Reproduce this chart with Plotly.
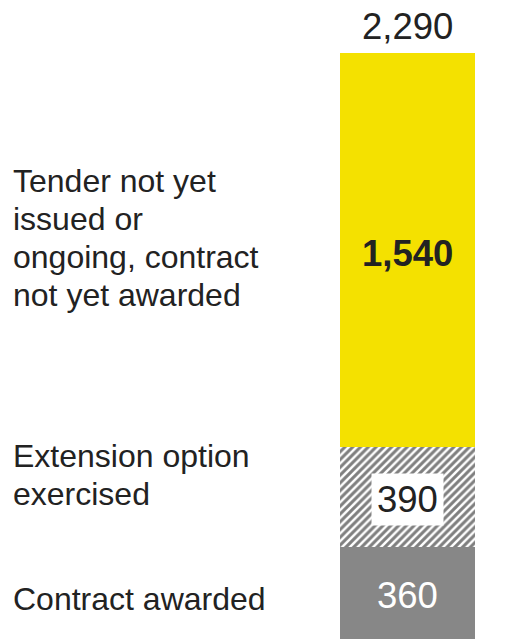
import plotly.graph_objects as go

categories = ["Contract awarded", "Extension option exercised", "Tender not yet issued or ongoing, contract not yet awarded"]
label_lines = [
    ["Contract awarded"],
    ["Extension option", "exercised"],
    ["Tender not yet", "issued or", "ongoing, contract", "not yet awarded"],
]
values = [360, 390, 1540]
total = sum(values)

colors = ["#878787", "#ffffff", "#F4E100"]
FONT = "Liberation Sans, Arial, sans-serif"
TXT = "#222222"

fig = go.Figure()
bases = []
b = 0
for v in values:
    bases.append(b)
    b += v

for i, (cat, v) in enumerate(zip(categories, values)):
    marker = dict(color=colors[i], line=dict(width=0))
    if i == 1:
        marker["pattern"] = dict(shape="/", fgcolor="#000000", bgcolor="#ffffff", size=5.5, solidity=0.55)
    fig.add_trace(go.Bar(x=[0], y=[v], name=cat, marker=marker, width=1, showlegend=False, hoverinfo="skip"))

# value labels
VS = 36.5
val_fonts = [dict(size=VS, color="#ffffff", family=FONT),
             dict(size=VS, color=TXT, family=FONT),
             dict(size=VS, color=TXT, family=FONT)]
for i, v in enumerate(values):
    txt = f"{v:,}"
    if i == 2:
        txt = f"<b>{v:,}</b>"
    ann = dict(x=0, y=bases[i] + v / 2, xref="x", yref="y", text=txt, showarrow=False,
               font=val_fonts[i], xanchor="center", yanchor="middle", yshift=-3)
    if i == 1:
        ann.update(bgcolor="#ffffff", borderpad=5)
    fig.add_annotation(**ann)

# total
fig.add_annotation(x=0, y=total, xref="x", yref="y", text=f"{total:,}", showarrow=False,
                   font=dict(size=VS, color=TXT, family=FONT), xanchor="center", yanchor="bottom", yshift=4)

# category labels (one annotation per line for tighter line spacing)
shifts = [-6, 22, 12]
SP = 37.7
for i, v in enumerate(values):
    lines = label_lines[i]
    n = len(lines)
    for k, line in enumerate(lines):
        fig.add_annotation(x=11 / 519, xref="paper", y=bases[i] + v / 2, yref="y", text=line,
                           showarrow=False, align="left", xanchor="left", yanchor="middle",
                           font=dict(size=32, color=TXT, family=FONT),
                           yshift=shifts[i] + ((n - 1) / 2 - k) * SP)

fig.update_layout(
    width=519, height=639,
    margin=dict(l=0, r=0, t=53, b=0),
    paper_bgcolor="#ffffff", plot_bgcolor="#ffffff",
    barmode="stack", bargap=0,
    xaxis=dict(range=[-0.5 - 340 / 135, -0.5 - 340 / 135 + 519 / 135], visible=False, fixedrange=True),
    yaxis=dict(range=[0, total], visible=False, fixedrange=True),
)
fig.write_html("out.html")
